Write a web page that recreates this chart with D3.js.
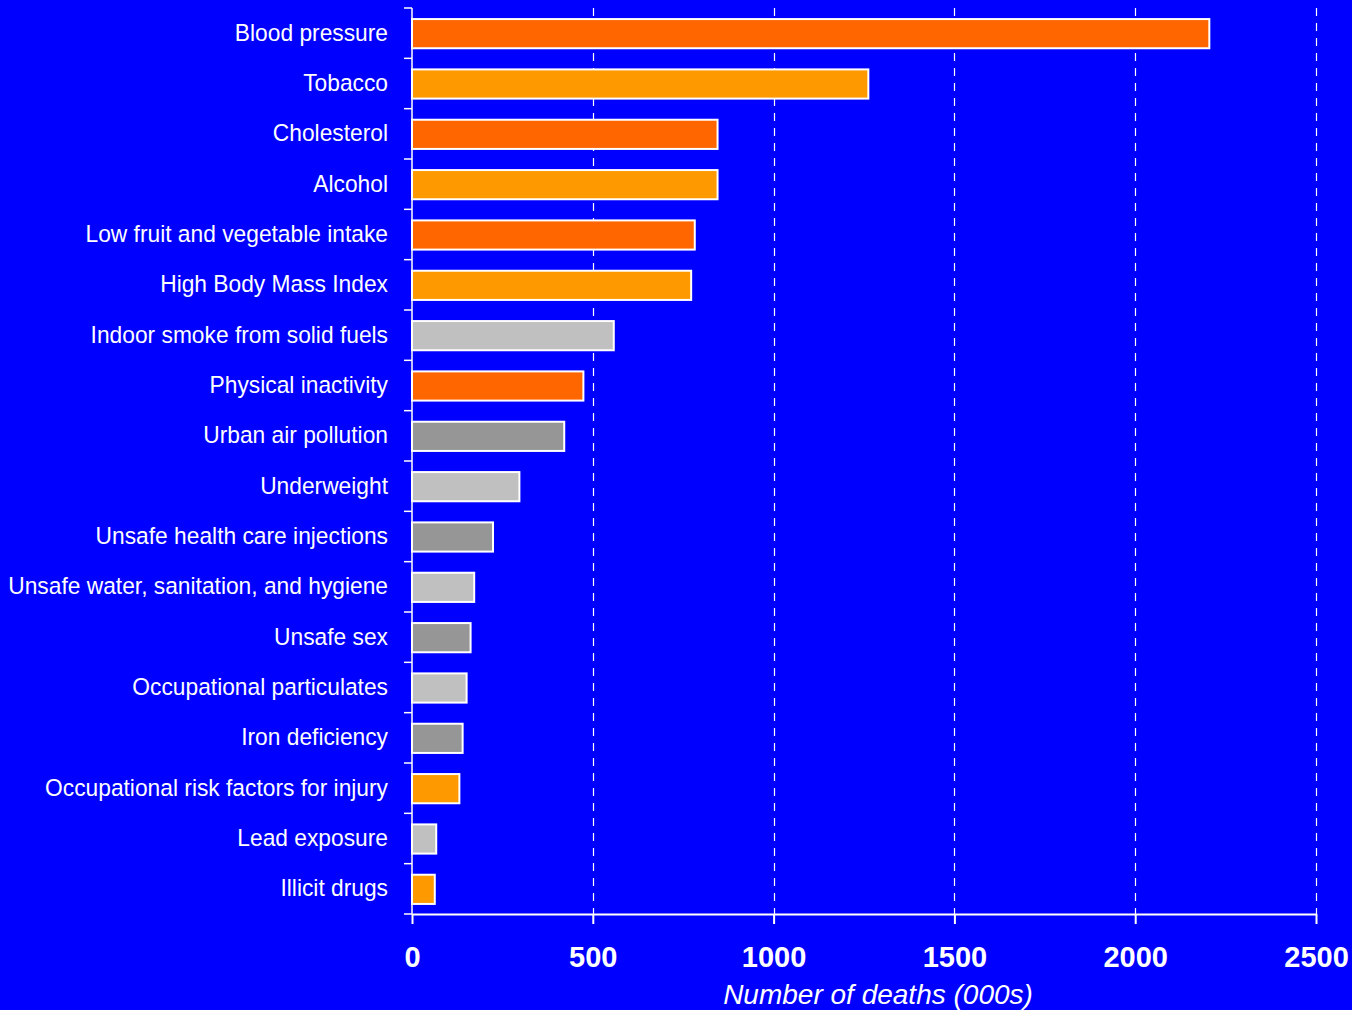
<!DOCTYPE html>
<html>
<head>
<meta charset="utf-8">
<script src="https://cdn.jsdelivr.net/npm/d3@7"></script>
<style>
  html, body { margin: 0; padding: 0; background: #0000FF; }
  svg { display: block; }
</style>
</head>
<body>
<svg id="chart" width="1352" height="1010"></svg>
<script>
// Attributable deaths by risk factor (thousands)
const categories = [
  "Blood pressure", "Tobacco", "Cholesterol", "Alcohol",
  "Low fruit and vegetable intake", "High Body Mass Index",
  "Indoor smoke from solid fuels", "Physical inactivity",
  "Urban air pollution", "Underweight", "Unsafe health care injections",
  "Unsafe water, sanitation, and hygiene", "Unsafe sex",
  "Occupational particulates", "Iron deficiency",
  "Occupational risk factors for injury", "Lead exposure", "Illicit drugs"
];
const deaths = [2205, 1262, 845, 845, 782, 772, 558, 474, 421, 297, 224, 172, 162, 151, 140, 131, 67, 63];
// fill group for each bar
const groups = ["a", "b", "a", "b", "a", "b", "c", "a", "d", "c", "d", "c", "d", "c", "d", "b", "c", "b"];
const groupKeys = ["a", "b", "c", "d"];
const groupColors = ["#FF6600", "#FF9900", "#C0C0C0", "#969696"];
const xTicks = [0, 500, 1000, 1500, 2000, 2500];
const xTitle = "Number of deaths (000s)";

const svg = d3.select("#chart");
const plotLeft = 412, plotRight = 1316, plotTop = 8, plotBottom = 914;

const x = d3.scaleLinear().domain([0, 2500]).range([plotLeft, plotRight]);
const y = d3.scaleBand().domain(categories).range([plotTop, plotBottom])
  .paddingInner(0.42).paddingOuter(0.21);
const color = d3.scaleOrdinal().domain(groupKeys).range(groupColors);

const rows = categories.map((c, i) => ({ name: c, value: deaths[i], group: groups[i] }));

// dashed vertical gridlines
svg.append("g")
  .selectAll("line")
  .data(xTicks.filter(t => t > 0))
  .join("line")
  .attr("x1", d => Math.round(x(d)) + 0.5)
  .attr("x2", d => Math.round(x(d)) + 0.5)
  .attr("y1", plotTop)
  .attr("y2", plotBottom)
  .attr("stroke", "#ffffff")
  .attr("stroke-width", 1.2)
  .attr("stroke-dasharray", "8,7");

// bars
svg.append("g")
  .selectAll("rect")
  .data(rows)
  .join("rect")
  .attr("x", x(0))
  .attr("y", d => y(d.name) + 0.5)
  .attr("width", d => x(d.value) - x(0))
  .attr("height", y.bandwidth())
  .attr("fill", d => color(d.group))
  .attr("stroke", "#ffffff")
  .attr("stroke-width", 2);

// category axis: vertical line with ticks at band boundaries
const yAxis = svg.append("g");
yAxis.append("line")
  .attr("x1", plotLeft).attr("x2", plotLeft)
  .attr("y1", plotTop).attr("y2", plotBottom)
  .attr("stroke", "#ffffff").attr("stroke-width", 1.5);
const boundaries = d3.range(categories.length + 1).map(i => plotTop + i * y.step());
yAxis.selectAll("line.tick")
  .data(boundaries)
  .join("line")
  .attr("class", "tick")
  .attr("x1", plotLeft - 8).attr("x2", plotLeft)
  .attr("y1", d => d).attr("y2", d => d)
  .attr("stroke", "#ffffff").attr("stroke-width", 1.5);

// category labels
svg.append("g")
  .selectAll("text")
  .data(rows)
  .join("text")
  .attr("transform", d => `translate(388,${y(d.name) + y.bandwidth() / 2 + 7.5}) scale(0.93,1)`)
  .attr("text-anchor", "end")
  .attr("fill", "#ffffff")
  .style("font-family", "'Liberation Sans', Arial, sans-serif")
  .style("font-size", "24.5px")
  .text(d => d.name);

// value axis
const xAxis = svg.append("g")
  .attr("transform", `translate(0,${plotBottom})`)
  .call(d3.axisBottom(x).tickValues(xTicks).tickSize(10).tickSizeOuter(0).tickFormat(d3.format("d")));
xAxis.select(".domain").attr("stroke", "#ffffff").attr("stroke-width", 2);
xAxis.selectAll(".tick line").attr("stroke", "#ffffff").attr("stroke-width", 2);
xAxis.selectAll(".tick text")
  .attr("y", 53).attr("dy", null)
  .attr("fill", "#ffffff")
  .style("font-family", "'Liberation Sans', Arial, sans-serif")
  .style("font-size", "29px")
  .style("font-weight", "bold");

// axis title
svg.append("text")
  .attr("x", 878)
  .attr("y", 1004)
  .attr("text-anchor", "middle")
  .attr("fill", "#ffffff")
  .style("font-family", "'Liberation Sans', Arial, sans-serif")
  .style("font-size", "28px")
  .style("font-style", "italic")
  .text(xTitle);
</script>
</body>
</html>
